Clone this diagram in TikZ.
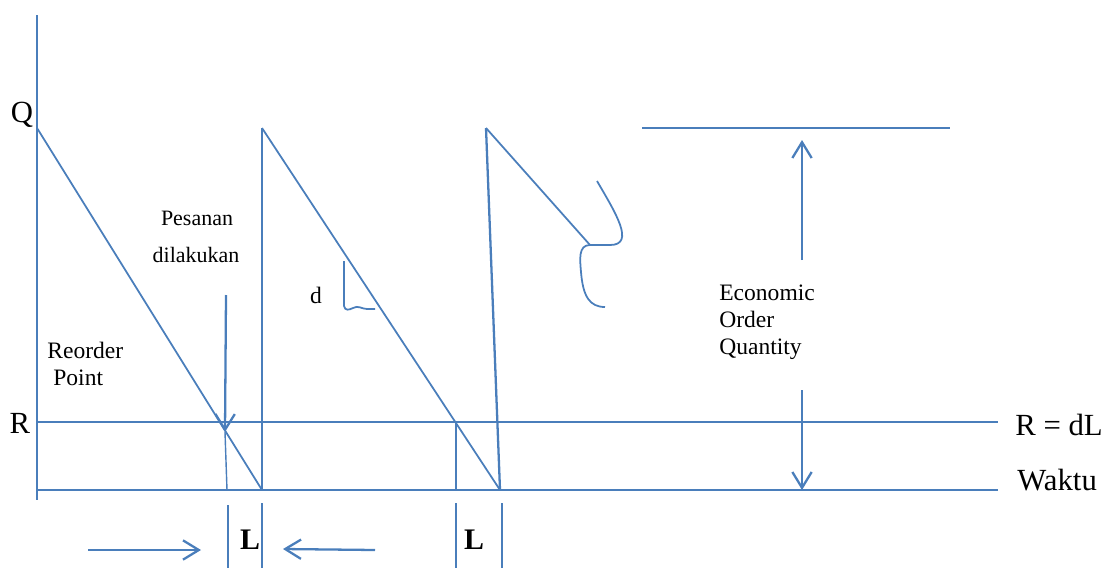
\documentclass[tikz,border=0pt]{standalone}
\usepackage{fontspec}
\setmainfont{Liberation Serif}
\usetikzlibrary{arrows.meta}
\definecolor{lineblue}{RGB}{74,126,187}
\begin{document}
\begin{tikzpicture}[x=0.02cm,y=-0.02cm,
  ln/.style={draw=lineblue,line width=1.3pt},
  diag/.style={draw=lineblue,line width=1pt},
  thin/.style={draw=lineblue,line width=0.8pt},
  arr/.style={ln,-{Straight Barb[length=9pt,width=11pt]}},
  big/.style={font=\fontsize{17.5}{21}\selectfont, inner sep=0pt},
  mid/.style={font=\fontsize{13.4}{16}\selectfont, inner sep=0pt},
  small/.style={font=\fontsize{12.5}{15}\selectfont, inner sep=0pt},
  bold/.style={font=\fontsize{17}{20}\selectfont\bfseries, inner sep=0pt}]
\useasboundingbox (0,0) rectangle (1108,568);

% key points
\coordinate (ytop) at (37,15);
\coordinate (ybot) at (37,500);
\coordinate (xl) at (37,490);
\coordinate (xr) at (998,490);
\coordinate (rl) at (37,422);
\coordinate (rr) at (998,422);
\coordinate (q1) at (37,128);
\coordinate (z1) at (262,490);
\coordinate (q2) at (262,128);
\coordinate (z2) at (500,490);
\coordinate (q3) at (486,128);
\coordinate (c1) at (590,245);
\coordinate (r2) at (456,422);
\coordinate (r2b) at (456,490);
\coordinate (ostart) at (226,295);
\coordinate (otip) at (225,432);
\coordinate (obot) at (227,490);
\coordinate (topl) at (642,128);
\coordinate (topr) at (950,128);
\coordinate (eoqup) at (802,260);
\coordinate (eoqtop) at (802,140);
\coordinate (eoqdn) at (802,390);
\coordinate (eoqbot) at (802,490);

% axes and horizontals
\draw[ln] (ytop) -- (ybot);
\draw[ln] (xl) -- (xr);
\draw[ln] (rl) -- (rr);
\draw[ln] (topl) -- (topr);

% sawtooth
\draw[diag] (q1) -- (z1);
\draw[ln] (z1) -- (q2);
\draw[diag] (q2) -- (z2);
\draw[ln] (z2) -- (q3);
\draw[diag] (q3) -- (c1);
\draw[ln] (r2) -- (r2b);

% curly bracket
\draw[diag] (597,181) .. controls (615,212) and (636,245) .. (610,245) -- (c1)
  .. controls (578,245) and (580,260) .. (581,272)
  .. controls (583,297) and (590,307) .. (605,307);

% slope mark d
\draw[diag] (344,261) -- (344,306) .. controls (345,311) and (349,310) .. (353,308)
  .. controls (358,305) and (362,309) .. (367,309) -- (375,309);

% order placed arrow
\draw[arr] (ostart) -- (otip);
\draw[thin] (otip) -- (obot);

% EOQ arrows
\draw[arr] (eoqup) -- (eoqtop);
\draw[arr] (eoqdn) -- (eoqbot);

% lead time markers
\coordinate (b1t) at (228,505); \coordinate (b1b) at (228,568);
\coordinate (b2t) at (262,503); \coordinate (b2b) at (262,568);
\coordinate (b3t) at (456,503); \coordinate (b3b) at (456,568);
\coordinate (b4t) at (502,503); \coordinate (b4b) at (502,568);
\draw[ln] (b1t) -- (b1b);
\draw[ln] (b2t) -- (b2b);
\draw[ln] (b3t) -- (b3b);
\draw[ln] (b4t) -- (b4b);
\coordinate (la1) at (88,550); \coordinate (la2) at (201,550);
\coordinate (ra1) at (375,550); \coordinate (ra2) at (283,549);
\draw[arr] (la1) -- (la2);
\draw[arr] (ra1) -- (ra2);

% labels
\node[big] (Q) at (22,115) {Q};
\node[big] (R) at (20,423) {R};
\node[big,anchor=west] (RdL) at (1015,425) {R = dL};
\node[big,anchor=west] (waktu) at (1017,480) {Waktu};
\node[mid,anchor=west] (reorder) at (47,350) {Reorder};
\node[mid,anchor=west] (point) at (53,378) {Point};
\node[small] (pesanan) at (197,218) {Pesanan};
\node[small] (dilakukan) at (196,255) {dilakukan};
\node[mid] (d) at (316,295) {d};
\node[mid,anchor=west,align=left,font=\fontsize{13.4}{15.5}\selectfont] (eoq) at (719,322) {Economic\\Order\\Quantity};
\node[bold] (L1) at (250,540) {L};
\node[bold] (L2) at (474,540) {L};
\end{tikzpicture}
\end{document}
